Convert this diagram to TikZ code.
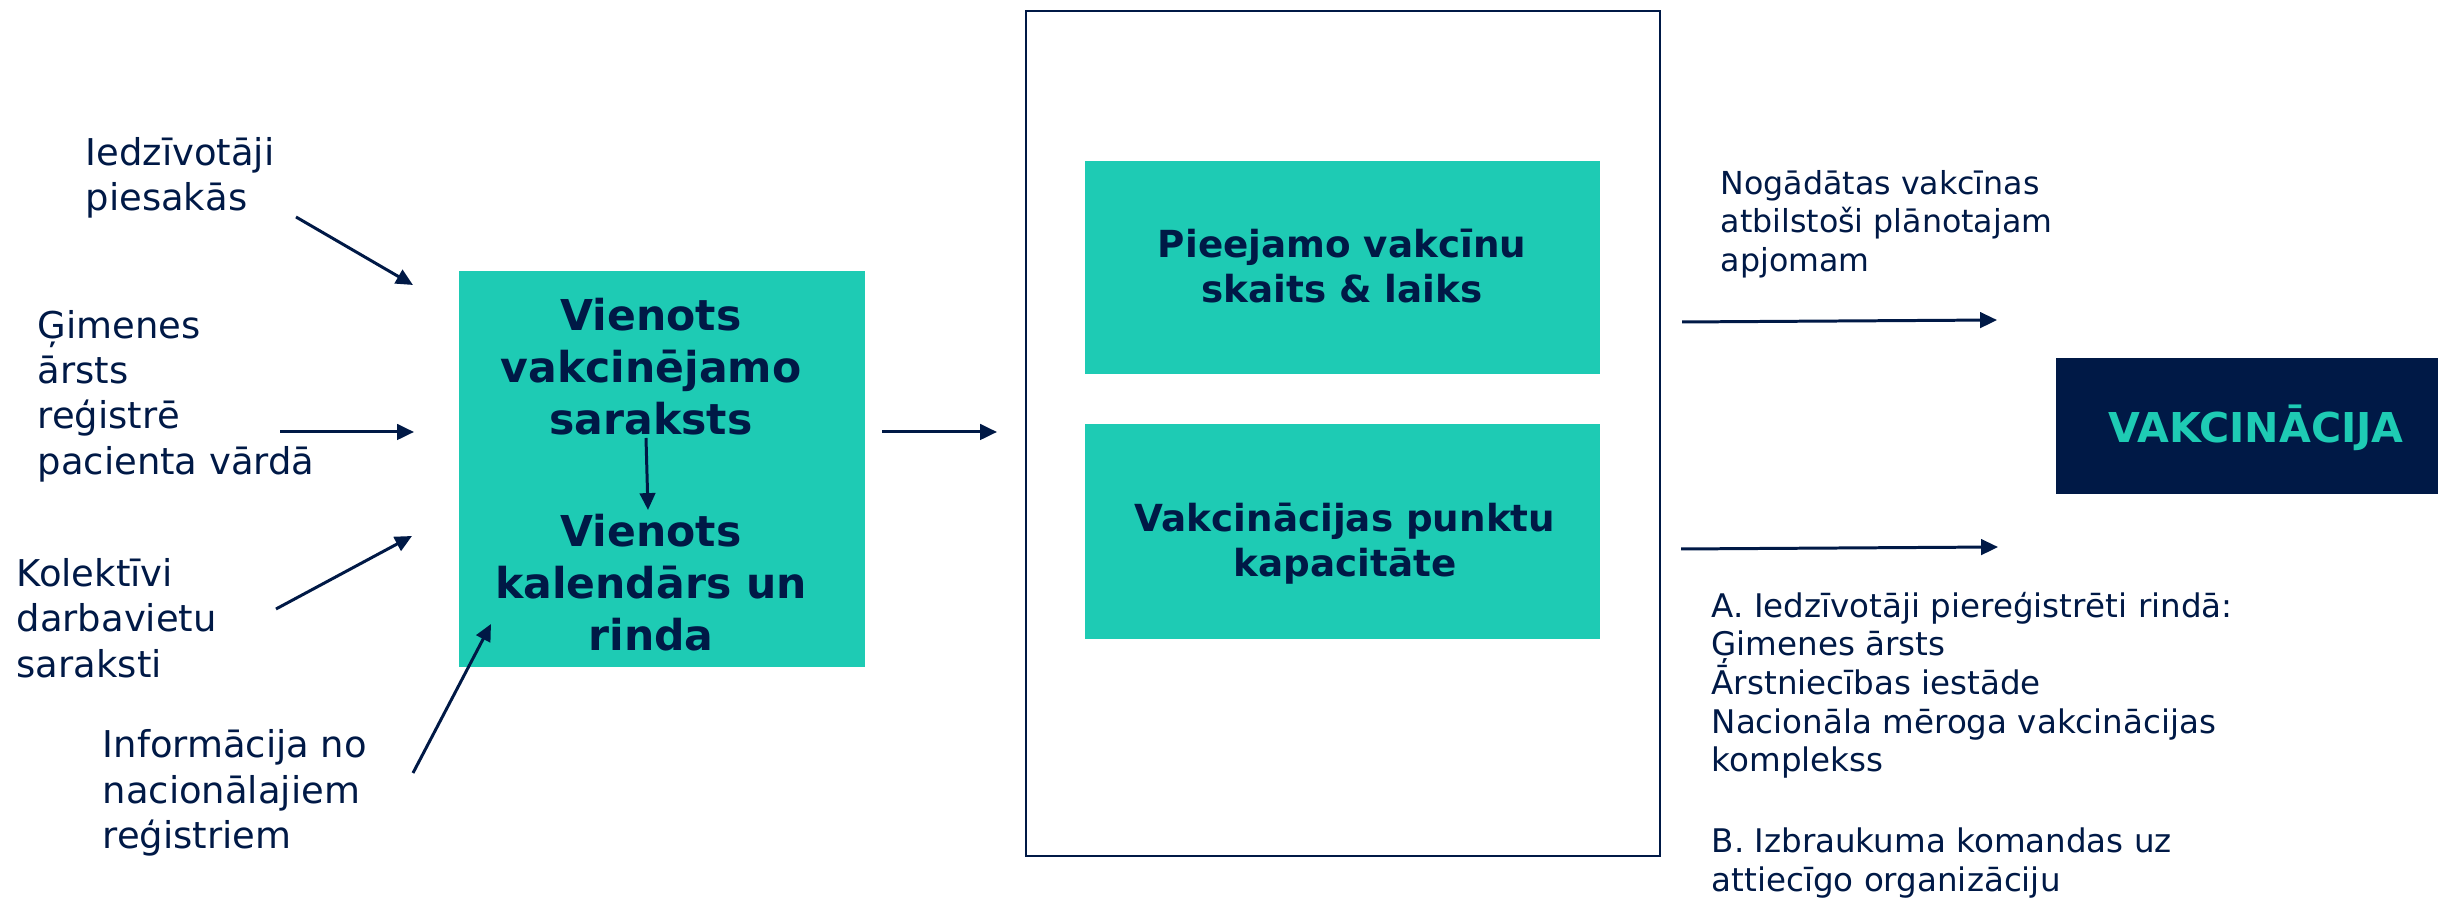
\documentclass[tikz,border=0pt]{standalone}
\usepackage{fontspec}
\setmainfont{DejaVu Sans}
\usepackage{tikz}
\usetikzlibrary{arrows.meta,positioning}
\definecolor{vteal}{HTML}{1ECBB4}
\definecolor{vnavy}{HTML}{001946}

\begin{document}
\begin{tikzpicture}[x=0.01cm,y=-0.01cm,
   every node/.style={text=vnavy},
   src/.style={align=left,anchor=west,inner sep=0pt,font=\fontsize{10.5}{12.9}\selectfont},
   note/.style={align=left,anchor=west,inner sep=0pt,font=\fontsize{9}{11}\selectfont},
   tealbox/.style={fill=vteal,inner sep=0pt},
   boxtxt/.style={align=center,inner sep=0pt,font=\bfseries\fontsize{10.6}{12.8}\selectfont},
   bigtxt/.style={align=center,inner sep=0pt,font=\bfseries\fontsize{12.1}{14.8}\selectfont},
   flow/.style={->,>={Triangle[length=4.8pt,width=4.4pt]},draw=vnavy,line width=0.85pt}]
   \useasboundingbox (0,0) rectangle (2438,898);

   % inputs on the left
   \node[src] (iedz)   at (85,178)  {Iedzīvotāji\\piesakās};
   \node[src] (gim)    at (37,396)  {Ģimenes\\ārsts\\reģistrē\\pacienta vārdā};
   \node[src] (kol)    at (16,618)  {Kolektīvi\\darbavietu\\saraksti};
   \node[src] (info)   at (102,793) {Informācija no\\nacionālajiem\\reģistriem};

   % single list and calendar
   \node[tealbox,minimum width=4.06cm,minimum height=3.96cm] (list) at (662,469) {};
   \node[bigtxt] (saraksts) at (651,367) {Vienots\\vakcinējamo\\saraksts};
   \node[bigtxt] (kalend)   at (651,583) {Vienots\\kalendārs un\\rinda};

   % planning frame
   \node[draw=vnavy,line width=0.7pt,minimum width=6.34cm,minimum height=8.45cm] (frame) at (1343,433.5) {};
   \node[tealbox,minimum width=5.15cm,minimum height=2.13cm] (vakc) at (1342.5,267.5) {};
   \node[boxtxt] at (1342,266) {Pieejamo vakcīnu\\skaits \& laiks};
   \node[tealbox,minimum width=5.15cm,minimum height=2.15cm] (kap)  at (1342.5,531.5) {};
   \node[boxtxt] at (1345,544) {Vakcinācijas punktu\\kapacitāte};

   % outputs
   \node[note] (nog) at (1720,224) {Nogādātas vakcīnas\\atbilstoši plānotajam\\apjomam};
   \node[note,font=\fontsize{9.25}{11}\selectfont] (rin) at (1711,745) {A. Iedzīvotāji piereģistrēti rindā:\\Ģimenes ārsts\\Ārstniecības iestāde\\Nacionāla mēroga vakcinācijas\\komplekss\\[12pt]B. Izbraukuma komandas uz\\attiecīgo organizāciju};
   \node[fill=vnavy,minimum width=3.82cm,minimum height=1.36cm] (vakcinacija) at (2247,426) {};
   \node[text=vteal,inner sep=0pt,font=\bfseries\fontsize{11.7}{13}\selectfont] at (2256,428) {VAKCINĀCIJA};

   \coordinate (a1s) at (296,217);  \coordinate (a1e) at (413,285);
   \coordinate (a2s) at (280,432);  \coordinate (a2e) at (414,432);
   \coordinate (a3s) at (276,609);  \coordinate (a3e) at (412,536);
   \coordinate (a4s) at (413,773);  \coordinate (a4e) at (491,624);
   \coordinate (ins) at (646,438);  \coordinate (ine) at (648,510);
   \coordinate (mds) at (882,432);  \coordinate (mde) at (997,432);
   \coordinate (r1s) at (1682,322); \coordinate (r1e) at (1997,320);
   \coordinate (r2s) at (1681,549); \coordinate (r2e) at (1998,547);

   \path
   (a1s) edge[flow] (a1e)
   (a2s) edge[flow] (a2e)
   (a3s) edge[flow] (a3e)
   (a4s) edge[flow] (a4e)
   (ins) edge[flow] (ine)
   (mds) edge[flow] (mde)
   (r1s) edge[flow] (r1e)
   (r2s) edge[flow] (r2e);
\end{tikzpicture}
\end{document}
